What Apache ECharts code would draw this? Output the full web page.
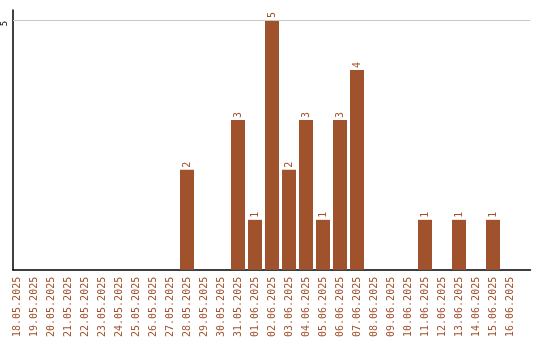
<!DOCTYPE html>
<html><head><meta charset="utf-8">
<script src="https://cdn.jsdelivr.net/npm/echarts@6/dist/echarts.min.js"></script>
<style>html,body{margin:0;padding:0;background:#fff}#c{width:540px;height:340px}</style>
</head><body><div id="c"></div>
<script>
const categories = ['18.05.2025','19.05.2025','20.05.2025','21.05.2025','22.05.2025','23.05.2025','24.05.2025','25.05.2025','26.05.2025','27.05.2025','28.05.2025','29.05.2025','30.05.2025','31.05.2025','01.06.2025','02.06.2025','03.06.2025','04.06.2025','05.06.2025','06.06.2025','07.06.2025','08.06.2025','09.06.2025','10.06.2025','11.06.2025','12.06.2025','13.06.2025','14.06.2025','15.06.2025','16.06.2025'];
const values = [0,0,0,0,0,0,0,0,0,0,2,0,0,3,1,5,2,3,1,3,4,0,0,0,1,0,1,0,1,0];
const yTicks = [5];
const yMax = 5.2;

const brown = '#a0522d';
const font = 'DejaVu Sans Mono';
const chart = echarts.init(document.getElementById('c'), null, {renderer:'canvas'});
chart.setOption({
  animation: false,
  grid: [
    {left: 8.5, right: 21.5, top: 10, bottom: 70},
    {left: 11, right: 9.5, top: 10, bottom: 70}
  ],
  xAxis: [
    {type:'category', gridIndex:0, data: categories, boundaryGap: true,
     axisLine:{show:false}, axisTick:{show:false},
     axisLabel:{rotate:90, interval:0, color: brown, fontFamily: font, fontSize: 10, margin: 7}},
    {type:'value', gridIndex:1, min:0, max:1, axisLine:{show:true, onZero:false, lineStyle:{color:'#000', width:1.5}},
     axisTick:{show:false}, axisLabel:{show:false}, splitLine:{show:false}}
  ],
  yAxis: [
    {type:'value', gridIndex:0, min:0, max:yMax, show:false},
    {type:'value', gridIndex:1, min:0, max:yMax, interval:5,
     axisLine:{show:true, lineStyle:{color:'#000', width:1.5}}, axisTick:{show:false}, splitLine:{show:false},
     axisLabel:{rotate:90, margin:4, color:'#000', fontFamily: font, fontSize: 9, padding:[0,7,0,0],
       formatter: v => yTicks.includes(v) ? String(v) : ''}}
  ],
  series: [
    {type:'bar', xAxisIndex:0, yAxisIndex:0, data: values, barWidth: 14,
     itemStyle:{color: brown},
     label:{show:true, position:'top', rotate:90, align:'left', verticalAlign:'middle', distance:2,
       color: brown, fontFamily: font, fontSize: 10,
       formatter: p => p.value ? String(p.value) : ''}},
    {type:'line', xAxisIndex:1, yAxisIndex:1, data: [], silent:true,
     markLine:{silent:true, symbol:'none', label:{show:false},
       lineStyle:{color:'#c8c8c8', type:'solid', width:1},
       data: yTicks.map(t => ({yAxis: t}))}}
  ]
});
</script></body></html>
